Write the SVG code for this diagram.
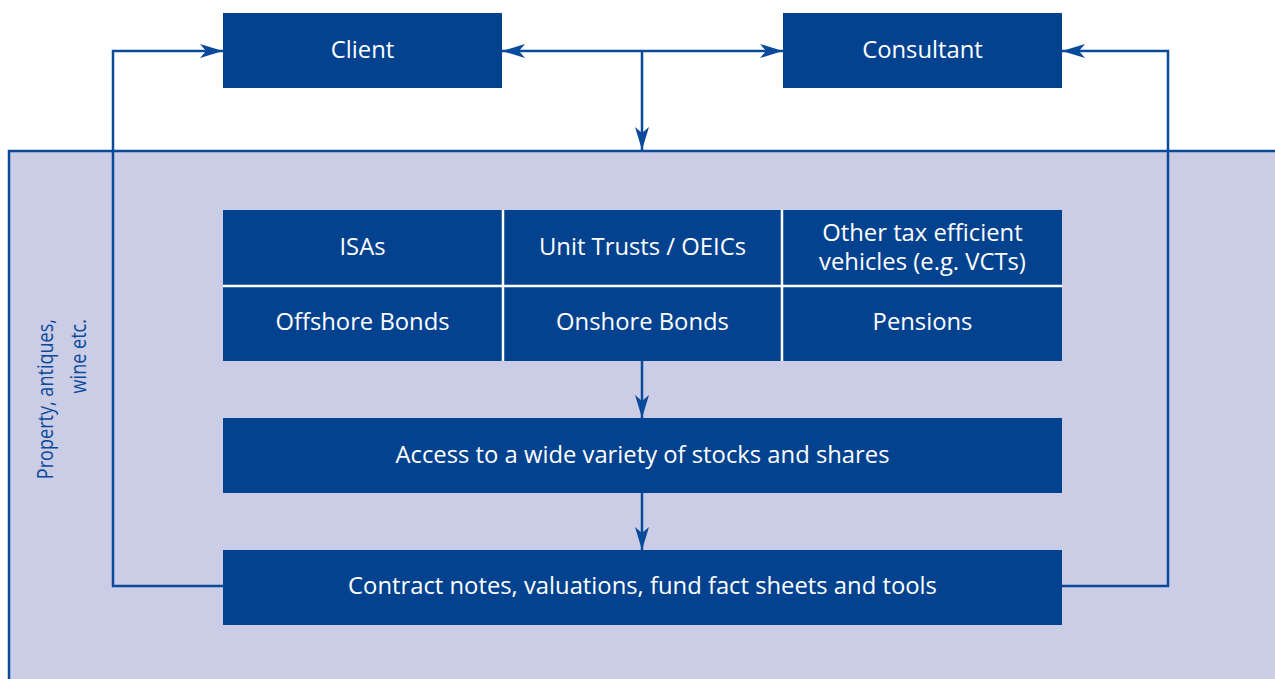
<svg xmlns="http://www.w3.org/2000/svg" width="1275" height="679" viewBox="0 0 1275 679">
<style>
.box{fill:#03428f}
.t{font-family:"Open Sans","Liberation Sans",Arial,sans-serif;font-size:23.8px;fill:#ffffff;text-anchor:middle}
.c{fill:none;stroke:#0a4a9a;stroke-width:2.5}
.div{stroke:#ffffff;stroke-width:2.5}
.side{font-family:"Open Sans","Liberation Sans",Arial,sans-serif;font-size:21px;fill:#0a4a9a;text-anchor:end}
</style>
<defs>
<marker id="ah" markerUnits="userSpaceOnUse" markerWidth="24" markerHeight="16" viewBox="0 0 24 16" refX="23" refY="8" orient="auto-start-reverse">
<path d="M0,1 L23,8 L0,15 L6,8 z" fill="#0a4a9a"/>
</marker>
</defs>
<rect width="1275" height="679" fill="#ffffff"/>
<g id="panel">
<rect x="9" y="151" width="1270" height="532" fill="#cbcce6"/>
<path d="M9,681 L9,151 L1277,151" fill="none" stroke="#0a4a9a" stroke-width="2.5"/>
<text class="side" transform="translate(53,319) rotate(-90) scale(0.86,1)">Property, antiques,</text>
<text class="side" transform="translate(86,319) rotate(-90) scale(0.86,1)">wine etc.</text>
</g>
<g id="connectors">
<path class="c" d="M223,586 L113,586 L113,51 L223,51" marker-end="url(#ah)"/>
<path class="c" d="M1062,586 L1168,586 L1168,51 L1062,51" marker-end="url(#ah)"/>
<path class="c" d="M502,51 L783,51" marker-start="url(#ah)" marker-end="url(#ah)"/>
<path class="c" d="M642,51 L642,150" marker-end="url(#ah)"/>
<path class="c" d="M642,361 L642,418" marker-end="url(#ah)"/>
<path class="c" d="M642,493 L642,550" marker-end="url(#ah)"/>
</g>
<g id="client">
<rect class="box" x="223" y="13" width="279" height="75"/>
<text class="t" x="362.5" y="58">Client</text>
</g>
<g id="consultant">
<rect class="box" x="783" y="13" width="279" height="75"/>
<text class="t" x="922.5" y="58">Consultant</text>
</g>
<g id="products">
<rect class="box" x="223" y="210" width="839" height="151"/>
<line class="div" x1="503" y1="210" x2="503" y2="361"/>
<line class="div" x1="782" y1="210" x2="782" y2="361"/>
<line class="div" x1="223" y1="286" x2="1062" y2="286"/>
</g>
<g id="isas"><text class="t" x="362.5" y="255">ISAs</text></g>
<g id="unit-trusts"><text class="t" x="642.5" y="255">Unit Trusts / OEICs</text></g>
<g id="other-tax"><text class="t" x="922.5" y="241"><tspan x="922.5">Other tax efficient</tspan><tspan x="922.5" dy="28.5">vehicles (e.g. VCTs)</tspan></text></g>
<g id="offshore"><text class="t" x="362.5" y="330">Offshore Bonds</text></g>
<g id="onshore"><text class="t" x="642.5" y="330">Onshore Bonds</text></g>
<g id="pensions"><text class="t" x="922.5" y="330">Pensions</text></g>
<g id="access">
<rect class="box" x="223" y="418" width="839" height="75"/>
<text class="t" x="642.5" y="463">Access to a wide variety of stocks and shares</text>
</g>
<g id="contract">
<rect class="box" x="223" y="550" width="839" height="75"/>
<text class="t" x="642.5" y="594">Contract notes, valuations, fund fact sheets and tools</text>
</g>
</svg>
